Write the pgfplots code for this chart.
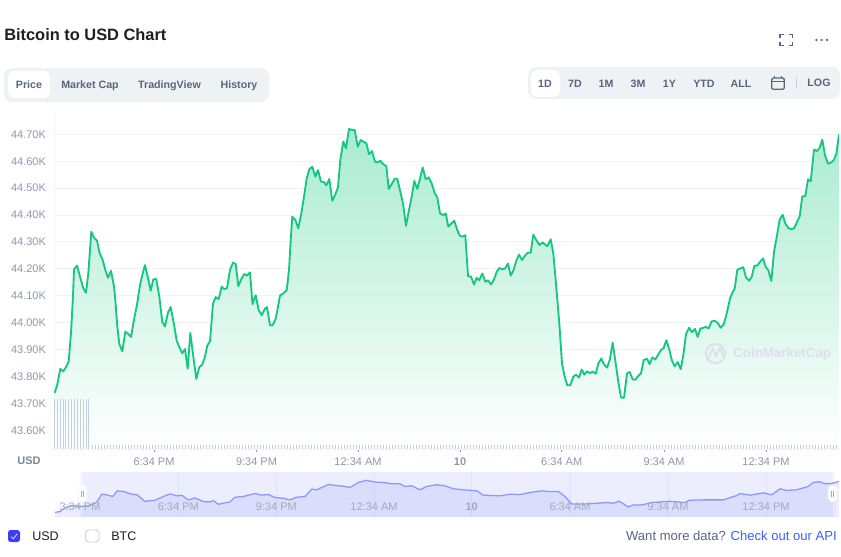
\documentclass[border=0pt]{standalone}
\usepackage{pgfplots}
\usepackage{pgfplotstable}
\usepackage{fontspec}
\pgfplotsset{compat=1.18}
\setmainfont{Liberation Sans}
\definecolor{cmcgreen}{HTML}{16C784}
\definecolor{fillgreen}{HTML}{9DE9CA}
\definecolor{gridc}{HTML}{EFF2F7}
\definecolor{ticktext}{HTML}{8F96AD}
\definecolor{uitext}{HTML}{58667E}
\definecolor{pillbg}{HTML}{EFF2F5}
\definecolor{volbar}{HTML}{C3CFE2}
\definecolor{navband}{HTML}{ECEEFD}
\definecolor{navline}{HTML}{8A98FF}
\definecolor{navfill}{HTML}{5A66F0}
\definecolor{navtext}{HTML}{A5A9B8}
\definecolor{wmark}{HTML}{DEDEEE}
\definecolor{cmcblue}{HTML}{3861FB}
\definecolor{checkblue}{HTML}{3D3DF5}
\newcommand{\fs}[1]{\fontsize{#1}{#1}\selectfont}

% x is the horizontal position (102 units = 3 hours), y is USD
\pgfplotstableread{
x y
54.7 43739
57.3 43770
60.3 43828
63.3 43819
66 43835
68.7 43856
71 43962
73 44098
74 44198
77 44212
80 44171
83.3 44128
86 44111
88.3 44183
91.3 44338
94 44316
97 44305
99.7 44258
102.7 44233
105.3 44196
108 44167
111 44193
114 44134
115.3 44085
117.3 43986
119.3 43921
122.3 43893
125.3 43967
128.3 43958
131 43947
134 44011
137 44067
140 44140
142.7 44183
145 44214
147.7 44171
150.7 44119
153.3 44161
156.3 44162
159.3 44097
162.3 44002
165 43986
168 44038
170.7 44058
173.7 43999
176.7 43933
179.7 43906
182.3 43886
185 43902
187.7 43829
190.3 43962
193.3 43875
196.3 43791
199.3 43835
202 43843
204.7 43869
207.3 43915
210 43931
213 44071
215.7 44095
218.7 44088
221.7 44134
224 44125
227 44128
230 44196
233 44223
235.7 44218
238.3 44136
241.7 44165
244.3 44181
247 44175
250 44187
252.5 44069
255.7 44102
258.7 44046
261.7 44028
264.7 44051
267 44058
270 43990
272.7 43991
275.7 44014
278.7 44073
280 44101
283.3 44109
286.7 44121
289 44196
290.7 44307
292.3 44394
295.3 44382
298.3 44351
301.3 44406
304 44468
306.7 44536
309.3 44570
312.3 44580
315.3 44543
318 44567
321 44524
324 44523
326.3 44510
329.3 44534
332.3 44453
335 44474
338 44503
340.3 44605
343.3 44673
346 44648
349 44720
352 44716
354.7 44717
357.7 44654
360.7 44679
363.3 44673
366.3 44667
369 44626
372 44638
375 44598
377.7 44596
380.3 44602
383 44590
386.3 44582
388.7 44497
391.7 44515
394.7 44535
397.3 44535
400.3 44487
403 44443
406 44360
409 44419
411.7 44468
414.3 44527
417.3 44497
420 44536
422.7 44577
425.7 44533
428.7 44540
431.7 44518
434.7 44481
437.3 44466
440 44406
443.3 44400
445.7 44406
448.3 44357
451.3 44369
454.3 44378
457.3 44344
460 44322
462.7 44320
465.3 44325
468 44173
471 44171
474 44142
476.7 44167
479.3 44158
482.3 44183
485.3 44152
488 44157
491 44142
493.7 44158
496.7 44189
499.3 44203
502.3 44199
505 44201
508 44220
510.7 44175
513.3 44193
516 44227
519 44253
522 44233
525 44249
527.7 44260
530.7 44260
533.3 44327
536.3 44307
539.3 44289
542.7 44298
547.3 44284
550.7 44310
553.3 44257
556 44145
559.3 43997
562 43848
564.7 43799
567.3 43767
570.3 43768
573.3 43799
576 43807
579 43796
581.7 43826
584.3 43807
587 43819
590 43812
592.7 43819
595.7 43810
598.3 43848
601.3 43867
604 43845
607 43833
609.7 43861
612.7 43926
615.7 43848
618.3 43780
621 43722
624 43721
627 43811
629.7 43817
632.7 43789
635.3 43788
638.3 43802
641 43812
643.7 43861
647 43866
649.7 43846
652.3 43871
655.3 43863
658.3 43882
661 43898
663.7 43906
666.3 43935
669.3 43900
672 43858
674.7 43838
677.7 43854
680.7 43827
683.3 43879
686 43957
689 43981
692 43965
695 43977
697.7 43947
700.3 43978
703.3 43981
706 43984
708.7 43979
711.7 44005
714.7 44007
717.7 43999
720.7 43981
723.7 43994
726.7 44034
730 44090
732.7 44114
734.7 44127
737.3 44197
743.3 44206
746 44168
749 44156
751.7 44170
754.3 44211
757.3 44213
760 44226
763 44239
765.7 44207
768.3 44195
771.3 44155
774 44263
777 44325
779.7 44384
782.7 44401
785.3 44368
788.3 44352
791.3 44347
794.3 44352
797.3 44377
799.7 44395
802.3 44470
805.3 44470
808 44533
810.7 44525
814 44643
816.7 44638
819.3 44647
822.3 44680
825 44622
828 44591
831 44595
834 44606
836.3 44628
839 44700
}\price

% overview strip under the chart
\pgfplotstableread{
x y
55 43504
60 43530
63.3 43632
68.3 43722
71.7 43760
80 43734
88.3 43747
96.7 43888
101.7 44195
106.7 44170
112.7 44106
117.3 44323
123.3 44298
131.7 44195
137.3 44170
145 43914
148.3 43939
155 43965
163.3 44106
170 44208
176.7 44131
181.7 44157
188.3 43978
195 44054
203.3 43914
210 43901
213.3 43952
218.3 43811
230 43901
235 44080
243.3 44106
255 44221
261.7 44157
268.3 44182
275 44067
283.3 44042
290 43978
296.7 44080
305 44106
311.7 44387
316.7 44362
328.3 44566
335 44528
343.3 44502
350 44451
358.3 44643
366.7 44720
375 44656
383.3 44643
391.7 44592
400 44592
405 44490
411.7 44515
420 44362
426.7 44490
436.7 44554
445 44515
453.3 44400
463.3 44362
476.7 44323
483.3 44157
500 44131
510 44195
520 44182
530 44259
541.7 44323
548.3 44298
558.3 44298
565 44106
571.7 43824
586.7 43824
606.7 43875
613.3 43850
619 43926
628.3 43709
633.3 43786
641.7 43786
651.7 43875
670 43926
685 43875
689.3 43965
703.3 43978
723.3 43978
736.7 44144
740 44221
750 44157
763.3 44246
771.7 44170
780 44400
786.7 44336
796.7 44362
808.3 44490
813.3 44643
820 44669
825 44592
831.7 44605
839 44682
}\overview

\begin{document}
\begin{tikzpicture}
\path[use as bounding box] (0,0) rectangle (630.75pt,-417pt);

% page furniture above the chart, in reference pixels
\begin{scope}[x=0.75pt,y=-0.75pt]
\node[anchor=mid west,inner sep=0,text=black!88] at (4,36.5) {\fs{12.3pt}\bfseries Bitcoin to USD Chart};
\fill[pillbg,rounded corners=6pt] (4,68) rectangle (269,102);
\fill[white,rounded corners=5pt] (8,71) rectangle (50,98);
\foreach \xx/\lab in {29/Price,90/Market Cap,169.5/TradingView,239/History}
  \node[anchor=mid,inner sep=0,text=uitext] at (\xx,84.5) {\fs{8pt}\bfseries \lab};
\fill[pillbg,rounded corners=6pt] (528,67) rectangle (840,99);
\fill[white,rounded corners=5pt] (531,70) rectangle (560,97);
\foreach \xx/\lab in {545/1D,575/7D,606/1M,638/3M,669.5/1Y,704/YTD,741/ALL}
  \node[anchor=mid,inner sep=0,text=uitext] at (\xx,83.5) {\fs{8pt}\bfseries \lab};
\node[anchor=mid,inner sep=0,text=uitext] at (819,82.5) {\fs{8pt}\bfseries LOG};
\draw[volbar,line width=0.6pt] (796.5,77) -- (796.5,89);
% calendar
\draw[uitext,line width=0.95pt,rounded corners=1pt] (771.8,78) rectangle (784.2,89.3);
\draw[uitext,line width=0.95pt] (771.8,81.5) -- (784.2,81.5) (774.8,76.5) -- (774.8,78.5) (781.2,76.5) -- (781.2,78.5);
% fullscreen, menu
\draw[uitext,line width=1pt] (780,38) -- (780,34.5) -- (784,34.5) (789,34.5) -- (792.7,34.5) -- (792.7,38)
  (792.7,42) -- (792.7,45.5) -- (789,45.5) (784,45.5) -- (780,45.5) -- (780,42);
\foreach \xx in {816.3,821.7,827} \fill[uitext] (\xx,40) circle (0.95pt);
% strip background
\fill[navband] (81.5,472) rectangle (832.5,517);
\end{scope}

% main chart
\begin{axis}[
  at={(40.5pt,-336.75pt)}, anchor=south west,
  scale only axis, width=588.75pt, height=252.75pt,
  xmin=54, xmax=839, ymin=43530.5, ymax=44783,
  scaled y ticks=false,
  axis x line*=bottom, axis y line*=left,
  axis line style={gridc,line width=0.7pt},
  ytick={43600,43700,43800,43900,44000,44100,44200,44300,44400,44500,44600,44700},
  yticklabels={43.60K,43.70K,43.80K,43.90K,44.00K,44.10K,44.20K,44.30K,44.40K,44.50K,44.60K,44.70K},
  xtick={154,256.5,358,460,561.7,664,766},
  xticklabels={6:34 PM,9:34 PM,12:34 AM,\textbf{10},6:34 AM,9:34 AM,12:34 PM},
  ymajorgrids, grid style={gridc,line width=0.7pt},
  major tick length=2.2pt,
  ytick style={draw=none},
  xtick style={draw=ticktext,line width=0.5pt},
  tick align=outside,
  every tick label/.style={font=\fs{8.25pt},text=ticktext},
  yticklabel style={xshift=-0.3pt},
  xticklabel style={yshift=-0.8pt},
]
\addplot[draw=none,top color=fillgreen,bottom color=white,fill opacity=0.88,forget plot]
  table[x=x,y=y] {\price} -- (axis cs:839,43530.5) -- (axis cs:54.7,43530.5) -- cycle;
% volume bars
\addplot[ycomb,volbar,line width=0.5pt,mark=none] coordinates {
(54.3,43716) (57.3,43716) (60.3,43716) (63.3,43716) (65.7,43716) (68.7,43716) (71.7,43716)
(74.7,43716) (77.7,43716) (80.3,43716) (83.3,43716) (86,43716) (88.7,43716)
(92,43545) (95,43545) (98,43545) (101,43545) (104,43545) (107,43545) (110,43545) (113,43545)
(116,43545) (119,43545) (122,43545) (125,43545) (128,43545) (131,43545) (134,43545) (137,43545)
(140,43545) (143,43545) (146,43545) (149,43545) (152,43545) (155,43545) (158,43545) (161,43545)
(164,43545) (167,43545) (170,43545) (173,43545) (176,43545) (179,43545) (182,43545) (185,43545)
(188,43545) (191,43545) (194,43545) (197,43545) (200,43545) (203,43545) (206,43545) (209,43545)
(212,43545) (215,43545) (218,43545) (221,43545) (224,43545) (227,43545) (230,43545) (233,43545)
(236,43545) (239,43545) (242,43545) (245,43545) (248,43545) (251,43545) (254,43545) (257,43545)
(260,43545) (263,43545) (266,43545) (269,43545) (272,43545) (275,43545) (278,43545) (281,43545)
(284,43545) (287,43545) (290,43545) (293,43545) (296,43545) (299,43545) (302,43545) (305,43545)
(308,43545) (311,43545) (314,43545) (317,43545) (320,43545) (323,43545) (326,43545) (329,43545)
(332,43545) (335,43545) (338,43545) (341,43545) (344,43545) (347,43545) (350,43545) (353,43545)
(356,43545) (359,43545) (362,43545) (365,43545) (368,43545) (371,43545) (374,43545) (377,43545)
(380,43545) (383,43545) (386,43545) (389,43545) (392,43545) (395,43545) (398,43545) (401,43545)
(404,43545) (407,43545) (410,43545) (413,43545) (416,43545) (419,43545) (422,43545) (425,43545)
(428,43545) (431,43545) (434,43545) (437,43545) (440,43545) (443,43545) (446,43545) (449,43545)
(452,43545) (455,43545) (458,43545) (461,43545) (464,43545) (467,43545) (470,43545) (473,43545)
(476,43545) (479,43545) (482,43545) (485,43545) (488,43545) (491,43545) (494,43545) (497,43545)
(500,43545) (503,43545) (506,43545) (509,43545) (512,43545) (515,43545) (518,43545) (521,43545)
(524,43545) (527,43545) (530,43545) (533,43545) (536,43545) (539,43545) (542,43545) (545,43545)
(548,43545) (551,43545) (554,43545) (557,43545) (560,43545) (563,43545) (566,43545) (569,43545)
(572,43545) (575,43545) (578,43545) (581,43545) (584,43545) (587,43545) (590,43545) (593,43545)
(596,43545) (599,43545) (602,43545) (605,43545) (608,43545) (611,43545) (614,43545) (617,43545)
(620,43545) (623,43545) (626,43545) (629,43545) (632,43545) (635,43545) (638,43545) (641,43545)
(644,43545) (647,43545) (650,43545) (653,43545) (656,43545) (659,43545) (662,43545) (665,43545)
(668,43545) (671,43545) (674,43545) (677,43545) (680,43545) (683,43545) (686,43545) (689,43545)
(692,43545) (695,43545) (698,43545) (701,43545) (704,43545) (707,43545) (710,43545) (713,43545)
(716,43545) (719,43545) (722,43545) (725,43545) (728,43545) (731,43545) (734,43545) (737,43545)
(740,43545) (743,43545) (746,43545) (749,43545) (752,43545) (755,43545) (758,43545) (761,43545)
(764,43545) (767,43545) (770,43545) (773,43545) (776,43545) (779,43545) (782,43545) (785,43545)
(788,43545) (791,43545) (794,43545) (797,43545) (800,43545) (803,43545) (806,43545) (809,43545)
(812,43545) (815,43545) (818,43545) (821,43545) (824,43545) (827,43545) (830,43545) (833,43545)
(836,43545) (839,43545)
};
\addplot[cmcgreen,line width=1.4pt,mark=none,line join=round] table[x=x,y=y] {\price};
\end{axis}

% overview strip
\begin{axis}[
  at={(41.25pt,-387.75pt)}, anchor=south west,
  scale only axis, width=588pt, height=33.75pt,
  xmin=55, xmax=839, ymin=43325, ymax=45040,
  axis lines=none,
]
\addplot[draw=none,fill=navfill,fill opacity=0.12,forget plot]
  table[x=x,y=y] {\overview} -- (axis cs:839,43325) -- (axis cs:55,43325) -- cycle;
\addplot[navline,line width=0.95pt,mark=none,line join=round] table[x=x,y=y] {\overview};
\end{axis}

\begin{scope}[x=0.75pt,y=-0.75pt]
% strip grid and labels
\foreach \xx in {80,178.3,276.3,374,471.7,570,668,766,834.5}
  \draw[navfill,draw opacity=0.08,line width=0.5pt] (\xx,472) -- (\xx,517);
\foreach \xx/\lab in {80/3:34 PM,178.3/6:34 PM,276.3/9:34 PM,374/12:34 AM,471.7/\textbf{10},570/6:34 AM,668/9:34 AM,766/12:34 PM}
  \node[anchor=mid,inner sep=0,text=navtext] at (\xx,506.5) {\fs{8.25pt}\lab};
% strip handles
\foreach \xx in {82.5,832.5} {
  \fill[white,rounded corners=3pt,draw=gridc,line width=0.4pt] (\xx-4.5,485) rectangle (\xx+4.5,502);
  \draw[navtext,line width=0.4pt] (\xx-1,490.5) -- (\xx-1,496.5) (\xx+1,490.5) -- (\xx+1,496.5);
}
% labels under the chart
\node[anchor=mid,inner sep=0,text=uitext!80] at (29,460.5) {\fs{8.25pt}\bfseries USD};
% watermark
\draw[wmark,line width=1.5pt] (722.2,360.3) arc[start angle=-45,end angle=-395,radius=7.2pt];
\draw[wmark,line width=1.4pt,line join=round] (708.5,358) -- (713,348) -- (716,356) -- (720,348) -- (723,356);
\node[anchor=mid west,inner sep=0,text=wmark] at (733,353.5) {\fs{10pt}\bfseries CoinMarketCap};
% checkboxes and footer
\fill[checkblue,rounded corners=2pt] (8,530) rectangle (20,542);
\draw[white,line width=0.5pt] (11,536.5) -- (13.3,538.8) -- (17.2,533.8);
\node[anchor=mid west,inner sep=0,text=black!88] at (32,536.7) {\fs{9.4pt}USD};
\draw[black!12!navband,fill=white,rounded corners=2.5pt,line width=0.7pt] (85.5,530) rectangle (99,542);
\node[anchor=mid west,inner sep=0,text=black!88] at (111,536.7) {\fs{9.4pt}BTC};
\node[anchor=mid east,inner sep=0] at (837,536.5) {\fs{9.8pt}\textcolor{uitext}{Want more data?} \textcolor{cmcblue}{Check out our API}};
\end{scope}
\end{tikzpicture}
\end{document}
